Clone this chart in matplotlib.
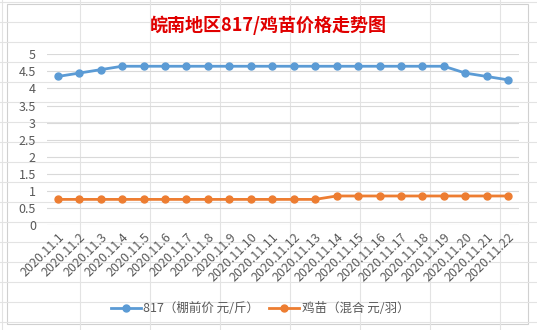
import matplotlib
matplotlib.use('Agg')
from matplotlib import pyplot as plt
from matplotlib.patches import Rectangle

plt.rcParams['font.family'] = ['Noto Sans CJK SC', 'DejaVu Sans']

dates = ['2020.11.%d' % d for d in range(1, 23)]
price_817 = [4.35, 4.45, 4.55, 4.65, 4.65, 4.65, 4.65, 4.65, 4.65, 4.65, 4.65,
             4.65, 4.65, 4.65, 4.65, 4.65, 4.65, 4.65, 4.65, 4.45, 4.35, 4.25]
price_chick = [0.75, 0.75, 0.75, 0.75, 0.75, 0.75, 0.75, 0.75, 0.75, 0.75, 0.75,
               0.75, 0.75, 0.85, 0.85, 0.85, 0.85, 0.85, 0.85, 0.85, 0.85, 0.85]
yticks = [0, 0.5, 1, 1.5, 2, 2.5, 3, 3.5, 4, 4.5, 5]
ytick_labels = ['0', '0.5', '1', '1.5', '2', '2.5', '3', '3.5', '4', '4.5', '5']

W, H = 537, 330
fig = plt.figure(figsize=(W / 100, H / 100), dpi=100)

# spreadsheet cell grid behind the chart
bg = fig.add_axes([0, 0, 1, 1])
bg.set_xlim(0, W)
bg.set_ylim(H, 0)
bg.axis('off')
for x in [2, 80, 150, 220, 290, 360, 430, 500]:
    bg.axvline(x, color='#E3E3E3', lw=0.8)
for y in range(2, H, 20):
    bg.axhline(y, color='#E3E3E3', lw=0.8)
bg.add_patch(Rectangle((7, 4), 521, 320, facecolor='white', edgecolor='#D0D0D0', lw=0.8))

ax = fig.add_axes([47 / W, (H - 225) / H, (519 - 47) / W, (225 - 54.3) / H])
ax.set_facecolor('none')
x = list(range(len(dates)))
ax.plot(x, price_817, color='#5B9BD5', lw=2, marker='o', markersize=5,
        label='817（棚前价 元/斤）')
ax.plot(x, price_chick, color='#ED7D31', lw=2, marker='o', markersize=5,
        label='鸡苗（混合 元/羽）')

ax.set_xlim(-0.5, len(dates) - 0.5)
ax.set_ylim(0, 5)
ax.set_yticks(yticks)
ax.set_yticklabels(ytick_labels)
ax.set_xticks(x)
ax.set_xticklabels(dates, rotation=45, ha='right', rotation_mode='anchor')
ax.yaxis.grid(True, color='#D9D9D9', lw=0.8)
ax.set_axisbelow(True)
for s in ax.spines.values():
    s.set_visible(False)
ax.tick_params(length=0, colors='#595959', labelsize=9)
ax.tick_params(axis='y', pad=8)
ax.tick_params(axis='x', pad=4)

fig.text(268 / W, 1 - 25 / H, '皖南地区817/鸡苗价格走势图', ha='center', va='center',
         color='#E00000', fontsize=13, fontweight='bold')

fig.legend(loc='center', bbox_to_anchor=(260 / W, 1 - 309 / H), ncol=2, frameon=False,
           fontsize=9, labelcolor='#595959', handlelength=2.4, columnspacing=0.8,
           handletextpad=0.2)

fig.savefig('out.png', dpi=100)
